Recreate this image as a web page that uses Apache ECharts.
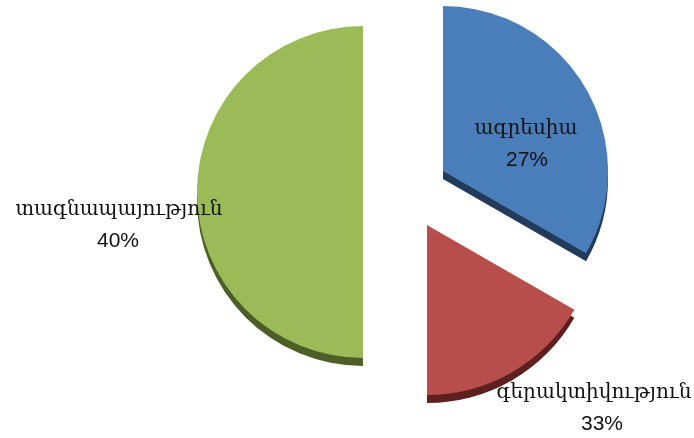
<!DOCTYPE html>
<html>
<head>
<meta charset="utf-8">
<script src="https://cdn.jsdelivr.net/npm/echarts@6/dist/echarts.min.js"></script>
<style>html,body{margin:0;padding:0;background:#fff;}#c{width:694px;height:438px;}</style>
</head>
<body>
<div id="c"></div>
<script>
// categories (clockwise from 12 o'clock)
var categories = ['ագրեսիա', 'գերակտիվություն', 'տագնապայություն'];
// slice shares as drawn (angles)
var sliceShares = [33.3, 16.7, 50];
// percentage labels as printed in the picture
var labelPercents = ['27%', '33%', '40%'];

var faceColors = ['#4a7ebb', '#b84e4b', '#9bbb59'];
var edgeColors = ['#223b5a', '#5e201f', '#4d5f27'];
var centers = [[443, 171], [427, 225], [363, 192]];
var radii = [165, 170, 166];
var namePos = [[526, 129], [594, 393], [119, 210]];
var pctPos = [[527, 160], [602, 424], [118, 241]];
var depth = 8;

var chart = echarts.init(document.getElementById('c'), null, {renderer: 'canvas'});

function sliceSeries(i, color, dy, z) {
  return {
    type: 'pie',
    silent: true,
    animation: false,
    z: z,
    center: [centers[i][0], centers[i][1] + dy],
    radius: [0, radii[i]],
    startAngle: 90,
    clockwise: true,
    avoidLabelOverlap: false,
    label: {show: false},
    labelLine: {show: false},
    emphasis: {disabled: true},
    data: categories.map(function (name, j) {
      return {
        name: name,
        value: sliceShares[j],
        itemStyle: {color: j === i ? color : 'rgba(0,0,0,0)', borderWidth: 0}
      };
    })
  };
}

var series = [];
for (var i = 0; i < categories.length; i++) series.push(sliceSeries(i, edgeColors[i], depth, 1));
for (var i = 0; i < categories.length; i++) series.push(sliceSeries(i, faceColors[i], 0, 2));

var graphics = [];
categories.forEach(function (name, i) {
  graphics.push({
    type: 'text', z: 10, x: namePos[i][0], y: namePos[i][1],
    style: {
      text: name, fill: '#111',
      font: '20px "DejaVu Serif", serif',
      align: 'center', verticalAlign: 'middle'
    }
  });
  graphics.push({
    type: 'text', z: 10, x: pctPos[i][0], y: pctPos[i][1],
    style: {
      text: labelPercents[i], fill: '#111',
      font: '21px "Liberation Sans", sans-serif',
      align: 'center', verticalAlign: 'middle'
    }
  });
});

chart.setOption({
  backgroundColor: '#ffffff',
  animation: false,
  series: series,
  graphic: graphics
});
</script>
</body>
</html>
